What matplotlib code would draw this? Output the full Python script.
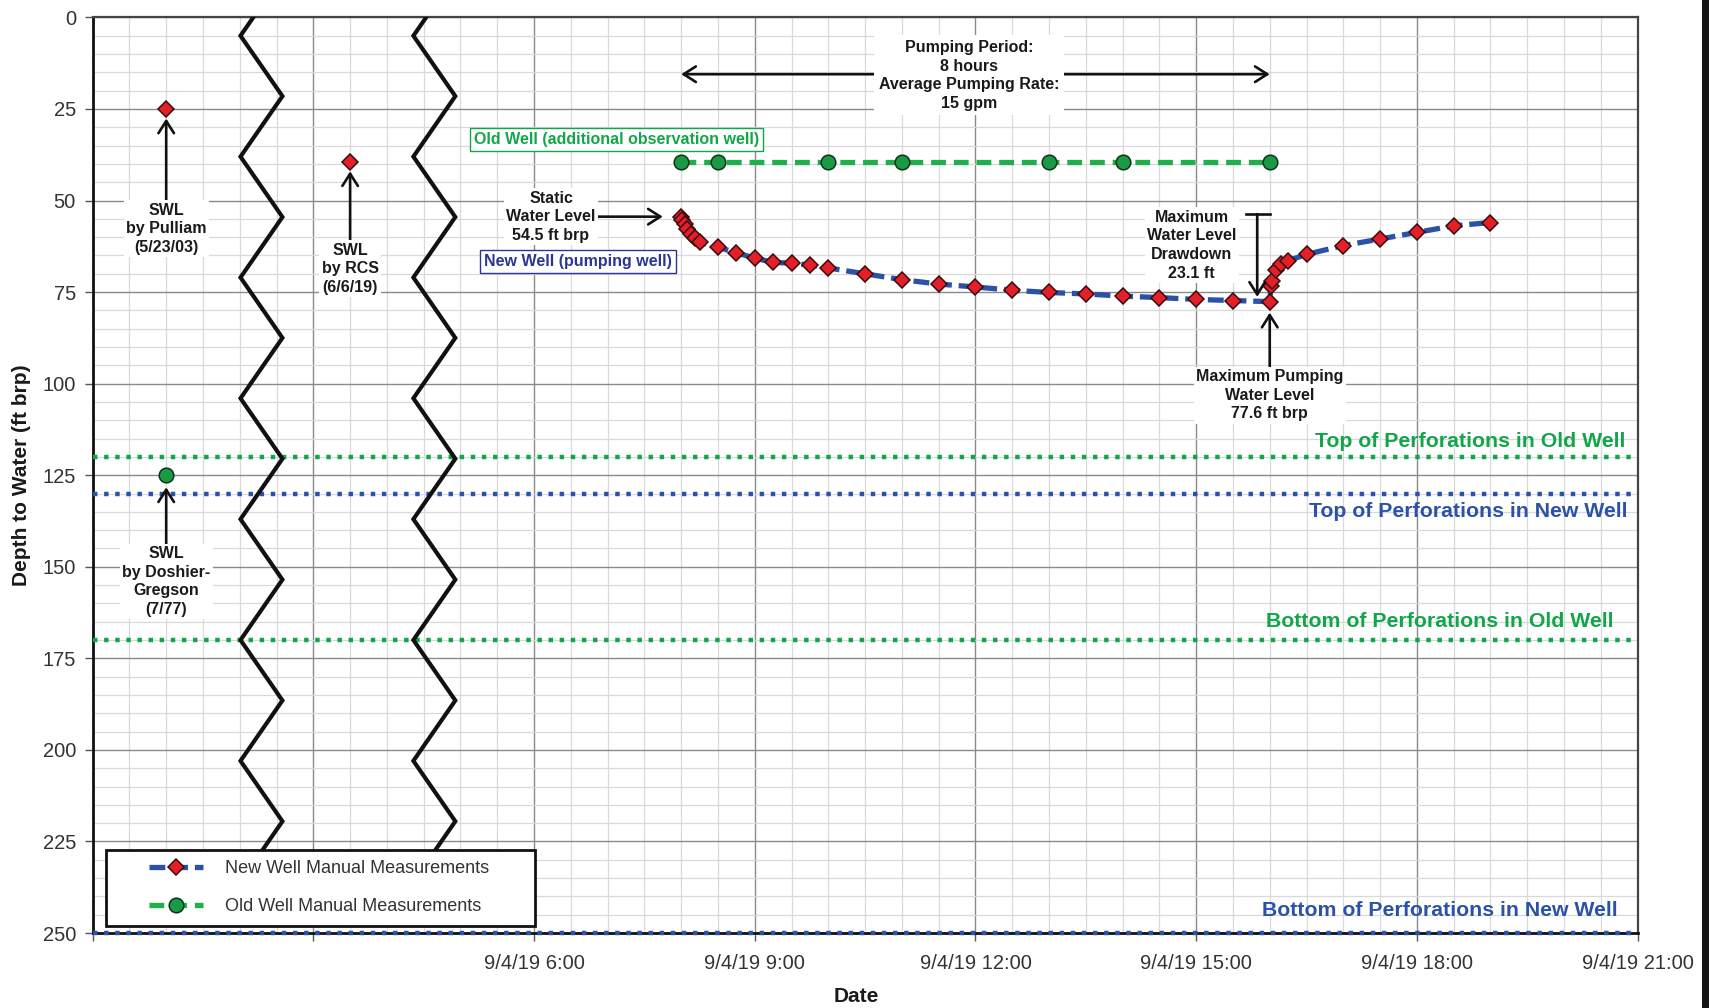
import numpy as np
import matplotlib
matplotlib.use('Agg')
import matplotlib.pyplot as plt
from matplotlib.ticker import MultipleLocator, FuncFormatter
from matplotlib.patches import Rectangle

plt.rcParams['font.family'] = ['Liberation Sans', 'DejaVu Sans']

# --- data (times on 9/4/19, depth to water in ft brp) ---
new_times = ["8:00", "8:01", "8:03", "8:05", "8:08", "8:11", "8:15", "8:30", "8:45",
             "9:00", "9:15", "9:30", "9:45", "10:00", "10:30", "11:00", "11:30",
             "12:00", "12:30", "13:00", "13:30", "14:00", "14:30", "15:00", "15:30",
             "16:00", "16:01", "16:02", "16:05", "16:09", "16:15", "16:30", "17:00",
             "17:30", "18:00", "18:30", "19:00"]
new_depth = [54.5, 55.3, 56.4, 57.7, 59.0, 60.2, 61.4, 62.7, 64.3,
             65.7, 66.9, 67.1, 67.6, 68.4, 70.0, 71.6, 72.8,
             73.6, 74.5, 75.1, 75.5, 76.1, 76.5, 77.0, 77.3,
             77.6, 73.4, 72.0, 69.0, 67.4, 66.4, 64.7, 62.3,
             60.5, 58.7, 56.9, 56.0]

old_times = ["8:00", "8:30", "10:00", "11:00", "13:00", "14:00", "16:00"]
old_depth = [39.5, 39.5, 39.5, 39.5, 39.5, 39.5, 39.5]

# historic static water levels, plotted in the "broken" part of the axis
hist_new_times = ["1:00", "3:30"]
hist_new_depth = [25.0, 39.5]
hist_old_times = ["1:00"]
hist_old_depth = [125.0]

perf_depths = [120, 130, 170, 250]
perf_labels = ["Top of Perforations in Old Well", "Top of Perforations in New Well",
               "Bottom of Perforations in Old Well", "Bottom of Perforations in New Well"]

GREEN = '#12A64A'
BLUE = '#2B52A8'
NAVY = '#2B3594'
RED = '#E3202A'


def to_hours(times):
    out = []
    for t in times:
        h, m = t.split(":")
        out.append(int(h) + int(m) / 60.0)
    return np.array(out)


fig = plt.figure(figsize=(17.09, 10.08), dpi=100)
ax = fig.add_axes([0.0542, 0.0744, 0.904, 0.9083])

# perforation levels
perf_colors = [GREEN, BLUE, GREEN, BLUE]
for d, c in zip(perf_depths, perf_colors):
    ax.hlines(d, 0, 20.92, colors=c, lw=3.2, linestyles=(0, (1.0, 1.5)), zorder=3,
              clip_on=False)

label_pos = [(20.83, 115.8), (20.87, 135.0), (20.67, 165.0), (20.73, 243.9)]
for (x, y), txt, c in zip(label_pos, perf_labels, perf_colors):
    ax.text(x, y, txt, color=c, fontsize=15.3, fontweight='bold', ha='right', va='center',
            zorder=4)

# axis break zigzags (stop where the legend box begins)
zig_top = 5.0
zig_half = 16.5
zig_end = 229.0
for x_left, x_right in [(2.01, 2.58), (4.36, 4.93)]:
    ys = np.arange(zig_top, 250 + zig_half, zig_half)
    xs = np.where(np.arange(len(ys)) % 2 == 0, x_left, x_right)
    slope = (x_right - x_left) / zig_half
    xs = np.concatenate([[x_left + slope * zig_top], xs])
    ys = np.concatenate([[0.0], ys])
    keep = ys <= zig_end
    x_end = np.interp(zig_end, ys, xs)
    ax.plot(np.append(xs[keep], x_end), np.append(ys[keep], zig_end),
            color='#111111', lw=3.0, zorder=5, solid_joinstyle='miter')

# data series
new_line, = ax.plot(to_hours(new_times), new_depth, color=BLUE, lw=3.8, dashes=(3.0, 1.3),
                    marker='D', ms=8.5, mfc=RED, mec='#3a0d0d', mew=1.1, zorder=7,
                    label='New Well Manual Measurements')
old_line, = ax.plot(to_hours(old_times), old_depth, color='#1DB04B', lw=3.8, dashes=(2.8, 1.5),
                    marker='o', ms=10.5, mfc='#1A9A45', mec='#0c3318', mew=1.1, zorder=7,
                    label='Old Well Manual Measurements')
ax.plot(to_hours(hist_new_times), hist_new_depth, ls='none', marker='D', ms=8.5,
        mfc=RED, mec='#3a0d0d', mew=1.1, zorder=7)
ax.plot(to_hours(hist_old_times), hist_old_depth, ls='none', marker='o', ms=10.5,
        mfc='#1A9A45', mec='#0c3318', mew=1.1, zorder=7)

# annotations
arrow = dict(arrowstyle='->,head_length=0.55,head_width=0.35', lw=1.9, color='#111111',
             mutation_scale=16, shrinkA=0, shrinkB=0)
box = dict(boxstyle='square,pad=0.15', fc='white', ec='none')
afont = dict(fontsize=11.5, fontweight='bold', ha='center', va='center', linespacing=1.3,
             color='#1a1a1a', zorder=9)

ax.annotate("SWL\nby Pulliam\n(5/23/03)", xy=(1.0, 27.6), xytext=(1.0, 57.7),
            bbox=box, arrowprops=arrow, **afont)
ax.annotate("SWL\nby RCS\n(6/6/19)", xy=(3.5, 42.0), xytext=(3.5, 68.6),
            bbox=box, arrowprops=arrow, **afont)
ax.annotate("SWL\nby Doshier-\nGregson\n(7/77)", xy=(1.0, 128.3), xytext=(1.0, 154.0),
            bbox=box, arrowprops=arrow, **afont)
ax.annotate("Static\nWater Level\n54.5 ft brp", xy=(7.75, 54.4), xytext=(6.23, 54.4),
            bbox=box, arrowprops=arrow, **afont)
ax.annotate("Maximum Pumping\nWater Level\n77.6 ft brp", xy=(16.0, 80.6), xytext=(16.0, 103.1),
            bbox=box, arrowprops=arrow, **afont)

# pumping period double arrow
ax.annotate("", xy=(8.0, 15.5), xytext=(16.0, 15.5),
            arrowprops=dict(arrowstyle='<->,head_length=0.55,head_width=0.35', lw=1.9,
                            color='#111111', mutation_scale=16, shrinkA=0, shrinkB=0),
            zorder=8)
ax.text(11.91, 15.8, "Pumping Period:\n8 hours\nAverage Pumping Rate:\n15 gpm",
        bbox=dict(boxstyle='square,pad=0.3', fc='white', ec='none'), **afont)

# drawdown arrow
ax.plot([15.68, 16.0], [53.7, 53.7], color='#111111', lw=1.9, zorder=8)
ax.annotate("", xy=(15.83, 76.3), xytext=(15.83, 53.7), arrowprops=arrow, zorder=8)
ax.text(14.94, 62.2, "Maximum\nWater Level\nDrawdown\n23.1 ft", bbox=box, **afont)

ax.text(7.12, 33.3, "Old Well (additional observation well)", color=GREEN, fontsize=11.5,
        fontweight='bold', ha='center', va='center', zorder=9,
        bbox=dict(boxstyle='square,pad=0.25', fc='white', ec=GREEN, lw=1.0))
ax.text(6.6, 66.7, "New Well (pumping well)", color=NAVY, fontsize=11.5,
        fontweight='bold', ha='center', va='center', zorder=9,
        bbox=dict(boxstyle='square,pad=0.25', fc='white', ec=NAVY, lw=1.0))

# axes, ticks, grid
ax.set_xlim(0, 21)
ax.set_ylim(250, 0)
ax.xaxis.set_major_locator(MultipleLocator(3))
ax.xaxis.set_minor_locator(MultipleLocator(0.5))
ax.yaxis.set_major_locator(MultipleLocator(25))
ax.yaxis.set_minor_locator(MultipleLocator(5))
ax.xaxis.set_major_formatter(FuncFormatter(
    lambda v, p: f"9/4/19 {int(round(v))}:00" if v >= 6 else ""))
ax.tick_params(axis='both', which='major', labelsize=14.5, labelcolor='#333333',
               color='#555555', length=6, width=1.0)
ax.tick_params(axis='x', which='major', pad=9)
ax.tick_params(axis='y', which='major', pad=6)
ax.tick_params(which='minor', length=0)
ax.grid(which='major', color='#8a8a8a', lw=1.0)
ax.grid(which='minor', color='#d9d9d9', lw=0.9)
ax.set_axisbelow(True)
for side in ['left', 'bottom']:
    ax.spines[side].set_color('#111111')
    ax.spines[side].set_linewidth(2.0)
for side in ['top', 'right']:
    ax.spines[side].set_color('#444444')
    ax.spines[side].set_linewidth(1.6)

ax.set_xlabel("Date", fontsize=15, fontweight='bold', color='#1a1a1a')
ax.set_ylabel("Depth to Water (ft brp)", fontsize=15, fontweight='bold', color='#1a1a1a')
ax.xaxis.set_label_coords(0.494, -0.059)
ax.yaxis.set_label_coords(-0.040, 0.5)

# legend: white framed box plus frameless legend entries inside it
ax.add_patch(Rectangle((0.0085, 0.0076), 0.2778, 0.0831, transform=ax.transAxes,
                       fc='white', ec='#111111', lw=2.0, zorder=19, clip_on=False))
leg = ax.legend(handles=[new_line, old_line], loc='center left',
                bbox_to_anchor=(0.0367, 0.0494), fontsize=13, handlelength=3.0,
                borderpad=0, borderaxespad=0, labelspacing=1.15, handletextpad=1.2,
                frameon=False)
leg.set_zorder(20)
for t in leg.get_texts():
    t.set_color('#333333')

# dark strip at right edge of the original scan
fig.patches.append(Rectangle((1702 / 1709, 0), 7 / 1709, 1, transform=fig.transFigure,
                             figure=fig, facecolor='#151515', edgecolor='none', zorder=30))

fig.savefig("out.png", dpi=100)
